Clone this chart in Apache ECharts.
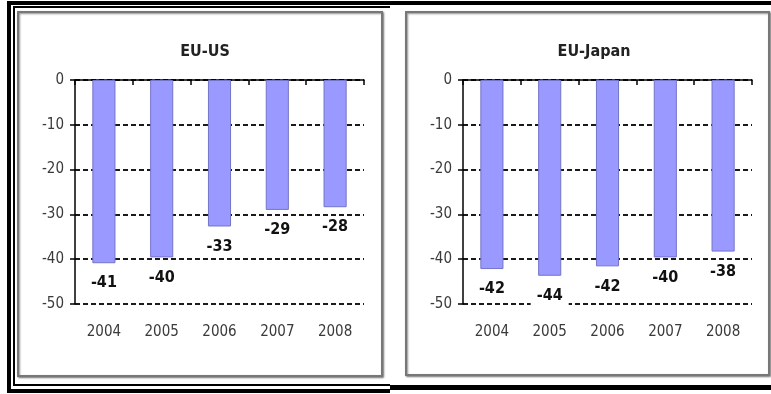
<!DOCTYPE html>
<html>
<head>
<meta charset="utf-8">
<title>EU-US / EU-Japan</title>
<script src="https://cdn.jsdelivr.net/npm/echarts@6/dist/echarts.min.js"></script>
<style>
    html, body { margin: 0; padding: 0; background: #fff; }
    #chart { width: 771px; height: 394px; }
</style>
</head>
<body>
<div id="chart"></div>
<script>
var years = ['2004', '2005', '2006', '2007', '2008'];
var euUs = [-40.9, -39.6, -32.7, -29.0, -28.4];
var euJapan = [-42.2, -43.7, -41.6, -39.6, -38.3];
var titles = ['EU-US', 'EU-Japan'];
var yTicks = { min: -50, max: 0, step: 10 };

var font = 'DejaVu Sans Condensed';
var chart = echarts.init(document.getElementById('chart'));

// one block per panel, both drawn in a single instance
var grids = [
    { left: 75, top: 80, width: 289, height: 224 },
    { left: 463, top: 80, width: 289, height: 224 }
];

function lineAxis(gi) {
    return {
        type: 'category', gridIndex: gi, data: years, position: 'top',
        axisLine: { onZero: false, lineStyle: { color: '#000', width: 1.5 } },
        axisTick: { show: true, inside: true, length: 5, lineStyle: { color: '#000', width: 1.5 } },
        axisLabel: { show: false },
        splitLine: { show: false }
    };
}

function labelAxis(gi) {
    return {
        type: 'category', gridIndex: gi, data: years, position: 'bottom',
        axisLine: { show: false, onZero: false },
        axisTick: { show: false },
        axisLabel: { margin: 21, color: '#3a3a3a', fontSize: 15, fontFamily: font }
    };
}

function valueAxis(gi) {
    return {
        type: 'value', gridIndex: gi, min: yTicks.min, max: yTicks.max, interval: yTicks.step,
        axisLine: { show: true, lineStyle: { color: '#000', width: 1.5 } },
        axisTick: { show: true, length: 5, lineStyle: { color: '#000', width: 1.5 } },
        axisLabel: { margin: 11, color: '#3a3a3a', fontSize: 15, fontFamily: font },
        splitLine: { show: true, lineStyle: { color: '#1a1a1a', width: 2, type: [5, 3] } }
    };
}

function barSeries(xi, yi, data) {
    return {
        type: 'bar', xAxisIndex: xi, yAxisIndex: yi, data: data,
        barWidth: '40%',
        itemStyle: { color: '#9999ff', borderColor: '#7474c8', borderWidth: 1 },
        label: {
            show: true, position: 'bottom', distance: 9,
            formatter: function (p) { return Math.round(p.value); },
            color: '#111', fontSize: 16, fontWeight: 'bold', fontFamily: font,
            backgroundColor: '#fff', padding: [3, 6]
        }
    };
}

function panel(x, y, w, h) {
    return {
        type: 'rect', z: -10, silent: true,
        shape: { x: x, y: y, width: w, height: h },
        style: {
            fill: '#fff', stroke: '#777', lineWidth: 2,
            shadowBlur: 2, shadowOffsetX: 1, shadowOffsetY: 1, shadowColor: 'rgba(0,0,0,0.45)'
        }
    };
}

function bar(x, y, w, h) {
    return { type: 'rect', z: 100, silent: true, shape: { x: x, y: y, width: w, height: h }, style: { fill: '#000' } };
}

var titleStyle = { fontFamily: font, fontSize: 16, fontWeight: 'bold', color: '#222' };

var option = {
    animation: false,
    title: [
        { text: titles[0], left: 200, top: 39, textAlign: 'center', textStyle: titleStyle },
        { text: titles[1], left: 589, top: 39, textAlign: 'center', textStyle: titleStyle }
    ],
    grid: grids,
    xAxis: [lineAxis(0), labelAxis(0), lineAxis(1), labelAxis(1)],
    yAxis: [valueAxis(0), valueAxis(1)],
    series: [barSeries(0, 0, euUs), barSeries(2, 1, euJapan)],
    graphic: [
        panel(18, 12, 364, 364),
        panel(406, 12, 363, 363),
        // page table border
        bar(7, 1, 764, 4),
        bar(7, 1, 4, 392),
        bar(13, 6, 2, 380),
        bar(13, 6, 377, 2),
        bar(13, 384, 377, 2),
        bar(7, 389, 383, 4),
        bar(390, 385, 381, 5)
    ]
};
chart.setOption(option);
</script>
</body>
</html>
